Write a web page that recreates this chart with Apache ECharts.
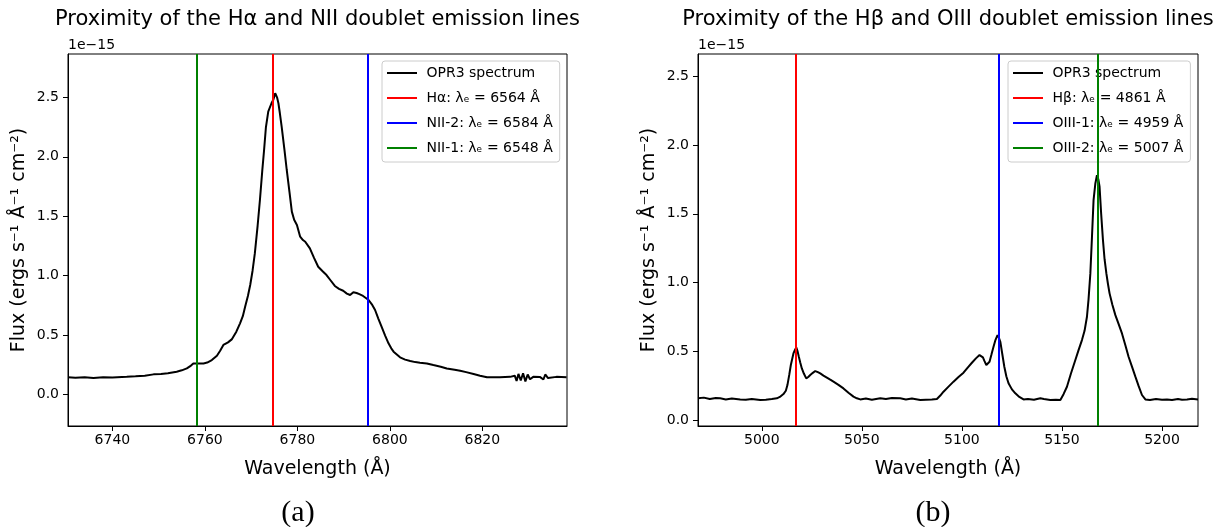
<!DOCTYPE html>
<html>
<head>
<meta charset="utf-8">
<script src="https://cdn.jsdelivr.net/npm/echarts@6/dist/echarts.min.js"></script>
<style>html,body{margin:0;padding:0;background:#fff}#c{width:1225px;height:527px}</style>
</head>
<body>
<div id="c"></div>
<script>
// Panel (a): Hα / NII region. Flux in units of 1e-15 ergs s^-1 Å^-1 cm^-2
const waveA = [6730.4,6732.0,6734.0,6735.9,6738.0,6740.0,6743.1,6745.0,6747.0,6748.9,6750.5,6752.0,6753.9,6755.0,6756.1,6757.0,6757.5,6758.5,6759.7,6760.5,6761.5,6762.6,6763.3,6764.0,6765.0,6765.8,6766.8,6767.6,6768.2,6768.7,6769.3,6769.8,6770.3,6770.8,6771.4,6771.9,6772.4,6772.8,6773.2,6773.7,6774.4,6774.8,6775.2,6775.6,6775.9,6776.2,6776.6,6777.2,6777.7,6778.3,6778.8,6779.3,6779.9,6780.6,6781.2,6781.7,6782.7,6783.6,6784.5,6785.4,6786.3,6787.2,6788.1,6789.0,6789.9,6790.7,6791.4,6792.1,6792.8,6793.4,6794.2,6795.4,6796.1,6796.8,6797.5,6798.2,6799.0,6799.7,6800.3,6800.8,6802.2,6803.3,6804.4,6805.5,6806.5,6808.0,6809.4,6811.0,6812.3,6814.0,6815.2,6816.5,6818.1,6819.5,6821.0,6823.8,6826.0,6827.0,6827.4,6827.8,6828.3,6828.8,6829.3,6829.8,6830.3,6831.0,6832.5,6833.2,6833.6,6834.2,6836.0,6838.2];
const fluxA = [0.146,0.143,0.147,0.140,0.146,0.145,0.151,0.155,0.160,0.171,0.175,0.180,0.193,0.205,0.221,0.245,0.263,0.262,0.263,0.270,0.291,0.328,0.370,0.418,0.440,0.465,0.530,0.600,0.660,0.740,0.830,0.922,1.040,1.188,1.420,1.637,1.880,2.057,2.250,2.379,2.450,2.480,2.534,2.500,2.450,2.370,2.253,2.060,1.889,1.700,1.539,1.470,1.427,1.328,1.300,1.286,1.230,1.150,1.076,1.040,1.006,0.960,0.914,0.890,0.874,0.850,0.838,0.862,0.855,0.845,0.830,0.796,0.760,0.712,0.640,0.572,0.495,0.432,0.390,0.362,0.314,0.295,0.283,0.274,0.269,0.262,0.249,0.235,0.221,0.210,0.202,0.190,0.174,0.160,0.146,0.146,0.150,0.160,0.115,0.175,0.120,0.180,0.112,0.170,0.130,0.150,0.148,0.128,0.170,0.140,0.150,0.146];
const lineNamesA = ['Hα: λₑ = 6564 Å','NII-2: λₑ = 6584 Å','NII-1: λₑ = 6548 Å'];
const lineObsA = [6774.7, 6795.3, 6758.2];
const xTicksA = [6740, 6760, 6780, 6800, 6820];

// Panel (b): Hβ / OIII region
const waveB = [4968.1,4971.0,4974.0,4977.0,4979.2,4982.0,4985.0,4989.2,4992.0,4995.0,4999.2,5002.0,5005.0,5007.5,5009.0,5010.8,5012.0,5012.8,5013.7,5014.5,5015.8,5016.5,5017.2,5017.8,5018.5,5019.2,5020.0,5021.0,5022.2,5023.2,5024.2,5025.5,5026.7,5028.0,5029.2,5030.8,5032.5,5034.2,5035.8,5038.3,5040.8,5043.3,5045.8,5047.5,5049.2,5052.0,5055.0,5059.2,5062.0,5065.0,5069.2,5072.0,5075.0,5079.2,5082.0,5085.0,5087.5,5089.2,5090.8,5093.3,5095.8,5098.3,5100.8,5103.0,5105.0,5107.0,5108.8,5109.6,5110.5,5111.3,5112.2,5113.0,5113.8,5114.8,5115.8,5116.8,5117.8,5118.5,5119.2,5120.2,5121.2,5122.2,5123.3,5125.0,5126.7,5128.7,5130.8,5133.0,5136.0,5139.2,5141.0,5144.2,5147.0,5149.2,5150.8,5152.5,5154.5,5156.7,5158.3,5160.0,5161.3,5162.5,5163.3,5164.2,5165.0,5165.8,5166.7,5167.5,5168.2,5168.8,5169.6,5170.5,5171.3,5172.2,5173.0,5173.8,5175.2,5176.7,5178.3,5180.0,5181.7,5183.3,5185.0,5186.7,5188.3,5190.0,5191.7,5194.0,5197.0,5200.0,5202.5,5205.0,5208.0,5210.0,5212.5,5215.0,5218.0];
const fluxB = [0.160,0.165,0.155,0.162,0.160,0.152,0.158,0.152,0.150,0.155,0.148,0.150,0.155,0.160,0.170,0.191,0.215,0.256,0.330,0.402,0.486,0.510,0.530,0.505,0.462,0.420,0.377,0.340,0.305,0.315,0.329,0.345,0.358,0.350,0.341,0.325,0.310,0.295,0.281,0.258,0.232,0.200,0.172,0.160,0.152,0.158,0.150,0.160,0.155,0.162,0.160,0.152,0.158,0.148,0.150,0.152,0.155,0.180,0.208,0.245,0.281,0.315,0.346,0.385,0.418,0.450,0.474,0.470,0.457,0.430,0.402,0.410,0.426,0.480,0.535,0.585,0.619,0.600,0.571,0.480,0.389,0.320,0.269,0.225,0.196,0.170,0.152,0.155,0.150,0.160,0.155,0.148,0.150,0.148,0.190,0.244,0.340,0.438,0.510,0.583,0.650,0.752,0.880,1.067,1.330,1.599,1.720,1.780,1.750,1.696,1.500,1.309,1.170,1.067,0.990,0.922,0.840,0.764,0.700,0.631,0.545,0.462,0.390,0.317,0.250,0.184,0.152,0.148,0.155,0.150,0.152,0.148,0.155,0.150,0.152,0.156,0.152];
const lineNamesB = ['Hβ: λₑ = 4861 Å','OIII-1: λₑ = 4959 Å','OIII-2: λₑ = 5007 Å'];
const lineObsB = [5017.0, 5118.2, 5167.7];
const xTicksB = [5000, 5050, 5100, 5150, 5200];

const yTicks = [0.0, 0.5, 1.0, 1.5, 2.0, 2.5];
const lineColors = ['#ff0000', '#0000ff', '#008000'];
const specName = 'OPR3 spectrum';
const titles = ['Proximity of the Hα and NII doublet emission lines', 'Proximity of the Hβ and OIII doublet emission lines'];
const captions = ['(a)', '(b)'];

const FONT = 'DejaVu Sans';
const chart = echarts.init(document.getElementById('c'), null, {renderer: 'canvas'});

function pairs(xs, ys) { return xs.map((x, i) => [x, ys[i]]); }

function xAxisCfg(gi, min, max, ticks) {
  return {
    type: 'value', gridIndex: gi, min: min, max: max,
    axisLine: {show: true, onZero: false, lineStyle: {color: '#000', width: 1}},
    axisTick: {show: true, length: 5, inside: false, customValues: ticks, lineStyle: {color: '#000', width: 1}},
    axisLabel: {customValues: ticks, fontSize: 14, color: '#000', fontFamily: FONT, margin: 7, formatter: v => String(v)},
    splitLine: {show: false},
    name: 'Wavelength (Å)', nameLocation: 'middle', nameGap: 34,
    nameTextStyle: {fontSize: 19, color: '#000', fontFamily: FONT}
  };
}
function yAxisCfg(gi, min, max) {
  return {
    type: 'value', gridIndex: gi, min: min, max: max,
    axisLine: {show: true, onZero: false, lineStyle: {color: '#000', width: 1}},
    axisTick: {show: true, length: 5, inside: false, customValues: yTicks, lineStyle: {color: '#000', width: 1}},
    axisLabel: {customValues: yTicks, fontSize: 14, color: '#000', fontFamily: FONT, margin: 9, formatter: v => v.toFixed(1)},
    splitLine: {show: false},
    name: 'Flux (ergs s⁻¹ Å⁻¹ cm⁻²)', nameLocation: 'middle', nameGap: 39,
    nameTextStyle: {fontSize: 19, color: '#000', fontFamily: FONT}
  };
}
function legendCfg(left, names) {
  return {
    orient: 'vertical', left: left, top: 61,
    data: [specName].concat(names),
    icon: 'rect', itemWidth: 30, itemHeight: 2, itemGap: 11,
    padding: [5, 7, 7, 5],
    backgroundColor: 'rgba(255,255,255,0.8)', borderColor: '#cccccc', borderWidth: 1, borderRadius: 3,
    formatter: n => ' ' + n,
    textStyle: {fontSize: 14, color: '#000', fontFamily: FONT},
    selectedMode: false
  };
}
function vlineSeries(gi, names, obs) {
  return names.map((n, i) => ({
    name: n, type: 'line', xAxisIndex: gi, yAxisIndex: gi, data: [], z: 5,
    itemStyle: {color: lineColors[i]}, lineStyle: {color: lineColors[i], width: 2},
    markLine: {silent: true, symbol: ['none', 'none'], label: {show: false}, animation: false,
      lineStyle: {color: lineColors[i], width: 2, type: 'solid'}, data: [{xAxis: obs[i]}]}
  }));
}

const option = {
  animation: false,
  backgroundColor: '#fff',
  grid: [
    {left: 68, top: 54, width: 499, height: 372, show: true, borderColor: '#000', borderWidth: 1, containLabel: false},
    {left: 698, top: 54, width: 500, height: 372, show: true, borderColor: '#000', borderWidth: 1, containLabel: false}
  ],
  xAxis: [xAxisCfg(0, 6730.4, 6838.3, xTicksA), xAxisCfg(1, 4968.1, 5218.0, xTicksB)],
  yAxis: [yAxisCfg(0, -0.263, 2.864), yAxisCfg(1, -0.041, 2.66)],
  legend: [legendCfg(382, lineNamesA), legendCfg(1008, lineNamesB)],
  series: [
    {name: specName, type: 'line', xAxisIndex: 0, yAxisIndex: 0, data: pairs(waveA, fluxA), showSymbol: false, z: 3,
     itemStyle: {color: '#000'}, lineStyle: {color: '#000', width: 2}},
    {name: specName, type: 'line', xAxisIndex: 1, yAxisIndex: 1, data: pairs(waveB, fluxB), showSymbol: false, z: 3,
     itemStyle: {color: '#000'}, lineStyle: {color: '#000', width: 2}}
  ].concat(vlineSeries(0, lineNamesA, lineObsA)).concat(vlineSeries(1, lineNamesB, lineObsB)),
  graphic: [
    {type: 'text', x: 317.5, y: 20, style: {text: titles[0], font: '21px "DejaVu Sans"', fill: '#000', textAlign: 'center', textVerticalAlign: 'middle'}},
    {type: 'text', x: 948, y: 20, style: {text: titles[1], font: '21px "DejaVu Sans"', fill: '#000', textAlign: 'center', textVerticalAlign: 'middle'}},
    {type: 'text', x: 68, y: 45, style: {text: '1e−15', font: '14px "DejaVu Sans"', fill: '#000', textAlign: 'left', textVerticalAlign: 'middle'}},
    {type: 'text', x: 698, y: 45, style: {text: '1e−15', font: '14px "DejaVu Sans"', fill: '#000', textAlign: 'left', textVerticalAlign: 'middle'}},
    {type: 'text', x: 298, y: 513, style: {text: captions[0], font: '30px "Liberation Serif"', fill: '#000', textAlign: 'center', textVerticalAlign: 'middle'}},
    {type: 'text', x: 933, y: 513, style: {text: captions[1], font: '30px "Liberation Serif"', fill: '#000', textAlign: 'center', textVerticalAlign: 'middle'}}
  ]
};
chart.setOption(option);
</script>
</body>
</html>
